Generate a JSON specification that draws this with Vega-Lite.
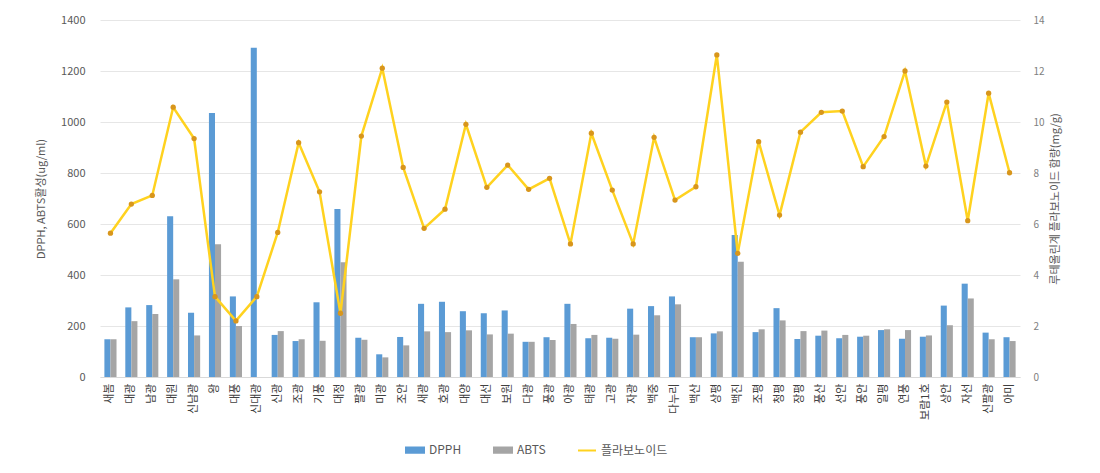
{
  "$schema": "https://vega.github.io/schema/vega-lite/v6.json",
  "width": 920,
  "height": 357,
  "autosize": {"type": "none"},
  "padding": {"left": 100, "top": 20, "right": 80, "bottom": 96},
  "background": "white",
  "config": {
    "view": {"stroke": null},
    "font": "Noto Sans CJK KR",
    "axis": {"labelColor": "#595959", "titleColor": "#595959", "labelFontSize": 11, "titleFontSize": 11, "titleFontWeight": "normal", "labelFont": "Noto Sans CJK KR", "titleFont": "Noto Sans CJK KR"},
    "legend": {"labelFont": "Noto Sans CJK KR"}
  },
  "data": {
    "values": [
      {"c": "새봄", "DPPH": 148, "ABTS": 148, "F": 5.64},
      {"c": "대광", "DPPH": 273, "ABTS": 219, "F": 6.78},
      {"c": "남광", "DPPH": 282, "ABTS": 247, "F": 7.12},
      {"c": "대원", "DPPH": 630, "ABTS": 383, "F": 10.58},
      {"c": "신남광", "DPPH": 252, "ABTS": 163, "F": 9.35},
      {"c": "왕", "DPPH": 1035, "ABTS": 521, "F": 3.15},
      {"c": "대풍", "DPPH": 316, "ABTS": 200, "F": 2.2},
      {"c": "신대광", "DPPH": 1291, "ABTS": null, "F": 3.15},
      {"c": "신광", "DPPH": 165, "ABTS": 180, "F": 5.67},
      {"c": "조광", "DPPH": 141, "ABTS": 148, "F": 9.19},
      {"c": "기풍", "DPPH": 293, "ABTS": 142, "F": 7.26},
      {"c": "대정", "DPPH": 659, "ABTS": 450, "F": 2.5},
      {"c": "팔광", "DPPH": 154, "ABTS": 146, "F": 9.45},
      {"c": "미광", "DPPH": 89, "ABTS": 77, "F": 12.11},
      {"c": "조안", "DPPH": 157, "ABTS": 124, "F": 8.22},
      {"c": "새광", "DPPH": 287, "ABTS": 179, "F": 5.83},
      {"c": "호광", "DPPH": 295, "ABTS": 176, "F": 6.58},
      {"c": "대양", "DPPH": 258, "ABTS": 183, "F": 9.91},
      {"c": "대선", "DPPH": 250, "ABTS": 167, "F": 7.44},
      {"c": "보원", "DPPH": 261, "ABTS": 170, "F": 8.31},
      {"c": "다광", "DPPH": 138, "ABTS": 138, "F": 7.36},
      {"c": "풍광", "DPPH": 156, "ABTS": 145, "F": 7.79},
      {"c": "아광", "DPPH": 287, "ABTS": 208, "F": 5.22},
      {"c": "태광", "DPPH": 152, "ABTS": 165, "F": 9.56},
      {"c": "고광", "DPPH": 154, "ABTS": 150, "F": 7.33},
      {"c": "자광", "DPPH": 268, "ABTS": 166, "F": 5.22},
      {"c": "백중", "DPPH": 278, "ABTS": 242, "F": 9.4},
      {"c": "다누리", "DPPH": 316, "ABTS": 285, "F": 6.94},
      {"c": "백산", "DPPH": 156, "ABTS": 156, "F": 7.46},
      {"c": "상평", "DPPH": 171, "ABTS": 179, "F": 12.63},
      {"c": "백진", "DPPH": 557, "ABTS": 452, "F": 4.85},
      {"c": "조평", "DPPH": 176, "ABTS": 187, "F": 9.23},
      {"c": "청평", "DPPH": 270, "ABTS": 222, "F": 6.35},
      {"c": "장평", "DPPH": 149, "ABTS": 180, "F": 9.6},
      {"c": "풍산", "DPPH": 162, "ABTS": 182, "F": 10.38},
      {"c": "선안", "DPPH": 152, "ABTS": 165, "F": 10.43},
      {"c": "풍안", "DPPH": 158, "ABTS": 162, "F": 8.25},
      {"c": "일평", "DPPH": 184, "ABTS": 187, "F": 9.43},
      {"c": "연풍", "DPPH": 150, "ABTS": 184, "F": 12.0},
      {"c": "보람1호", "DPPH": 158, "ABTS": 163, "F": 8.27},
      {"c": "상안", "DPPH": 280, "ABTS": 203, "F": 10.78},
      {"c": "자선", "DPPH": 366, "ABTS": 308, "F": 6.13},
      {"c": "신팔광", "DPPH": 174, "ABTS": 148, "F": 11.13},
      {"c": "아미", "DPPH": 156, "ABTS": 141, "F": 8.01}
    ]
  },
  "encoding": {
    "x": {
      "field": "c", "type": "nominal", "sort": null,
      "scale": {"paddingInner": 0.42, "paddingOuter": 0.21},
      "axis": {"title": null, "labelAngle": -90, "labelAlign": "right", "labelBaseline": "middle", "ticks": false, "domainColor": "#D9D9D9", "labelPadding": 6, "labelFontSize": 11, "labelColor": "#404040"}
    }
  },
  "layer": [
    {
      "transform": [{"fold": ["DPPH", "ABTS"], "as": ["series", "val"]}],
      "mark": {"type": "bar"},
      "encoding": {
        "xOffset": {"field": "series", "type": "nominal", "sort": ["DPPH", "ABTS"], "scale": {"paddingInner": 0}},
        "y": {
          "field": "val", "type": "quantitative",
          "scale": {"domain": [0, 1400]},
          "axis": {"title": "DPPH, ABTS활성(ug/ml)", "format": "d", "values": [0, 200, 400, 600, 800, 1000, 1200, 1400], "grid": true, "gridColor": "#E6E6E6", "domain": false, "ticks": false, "labelPadding": 15, "titlePadding": 14}
        },
        "color": {
          "field": "series", "type": "nominal",
          "scale": {"domain": ["DPPH", "ABTS", "플라보노이드"], "range": ["#5B9BD5", "#A5A5A5", "#FFD21F"]},
          "legend": {
            "title": null, "orient": "none", "legendX": 305, "legendY": 420, "direction": "horizontal",
            "labelFontSize": 12, "labelColor": "#595959", "symbolSize": 324, "columnPadding": 28, "labelOffset": 4,
            "encode": {
              "symbols": {
                "update": {
                  "shape": {"signal": "datum.value === '플라보노이드' ? 'M-1,0L1,0' : 'M-1,-0.3H1V0.3H-1Z'"},
                  "fill": {"signal": "datum.value === '플라보노이드' ? 'transparent' : scale('color', datum.value)"},
                  "stroke": {"signal": "datum.value === '플라보노이드' ? '#FFD21F' : 'transparent'"},
                  "strokeWidth": {"value": 2}
                }
              }
            }
          }
        }
      }
    },
    {
      "layer": [
        {
          "mark": {"type": "line", "strokeWidth": 2.5},
          "encoding": {
            "y": {
              "field": "F", "type": "quantitative",
              "scale": {"domain": [0, 14]},
              "axis": {"orient": "right", "title": "루테올린계 플라보노이드 함량(mg/g)", "titleAngle": -90, "values": [0, 2, 4, 6, 8, 10, 12, 14], "grid": false, "domain": false, "ticks": false, "labelPadding": 13, "titlePadding": 16, "labelFontSize": 10, "labelColor": "#808080"}
            },
            "color": {"datum": "플라보노이드"}
          }
        },
        {
          "mark": {"type": "point", "filled": true, "color": "#D8961C", "size": 28, "opacity": 1},
          "encoding": {
            "y": {"field": "F", "type": "quantitative"}
          }
        }
      ]
    }
  ],
  "resolve": {"scale": {"y": "independent"}}
}
